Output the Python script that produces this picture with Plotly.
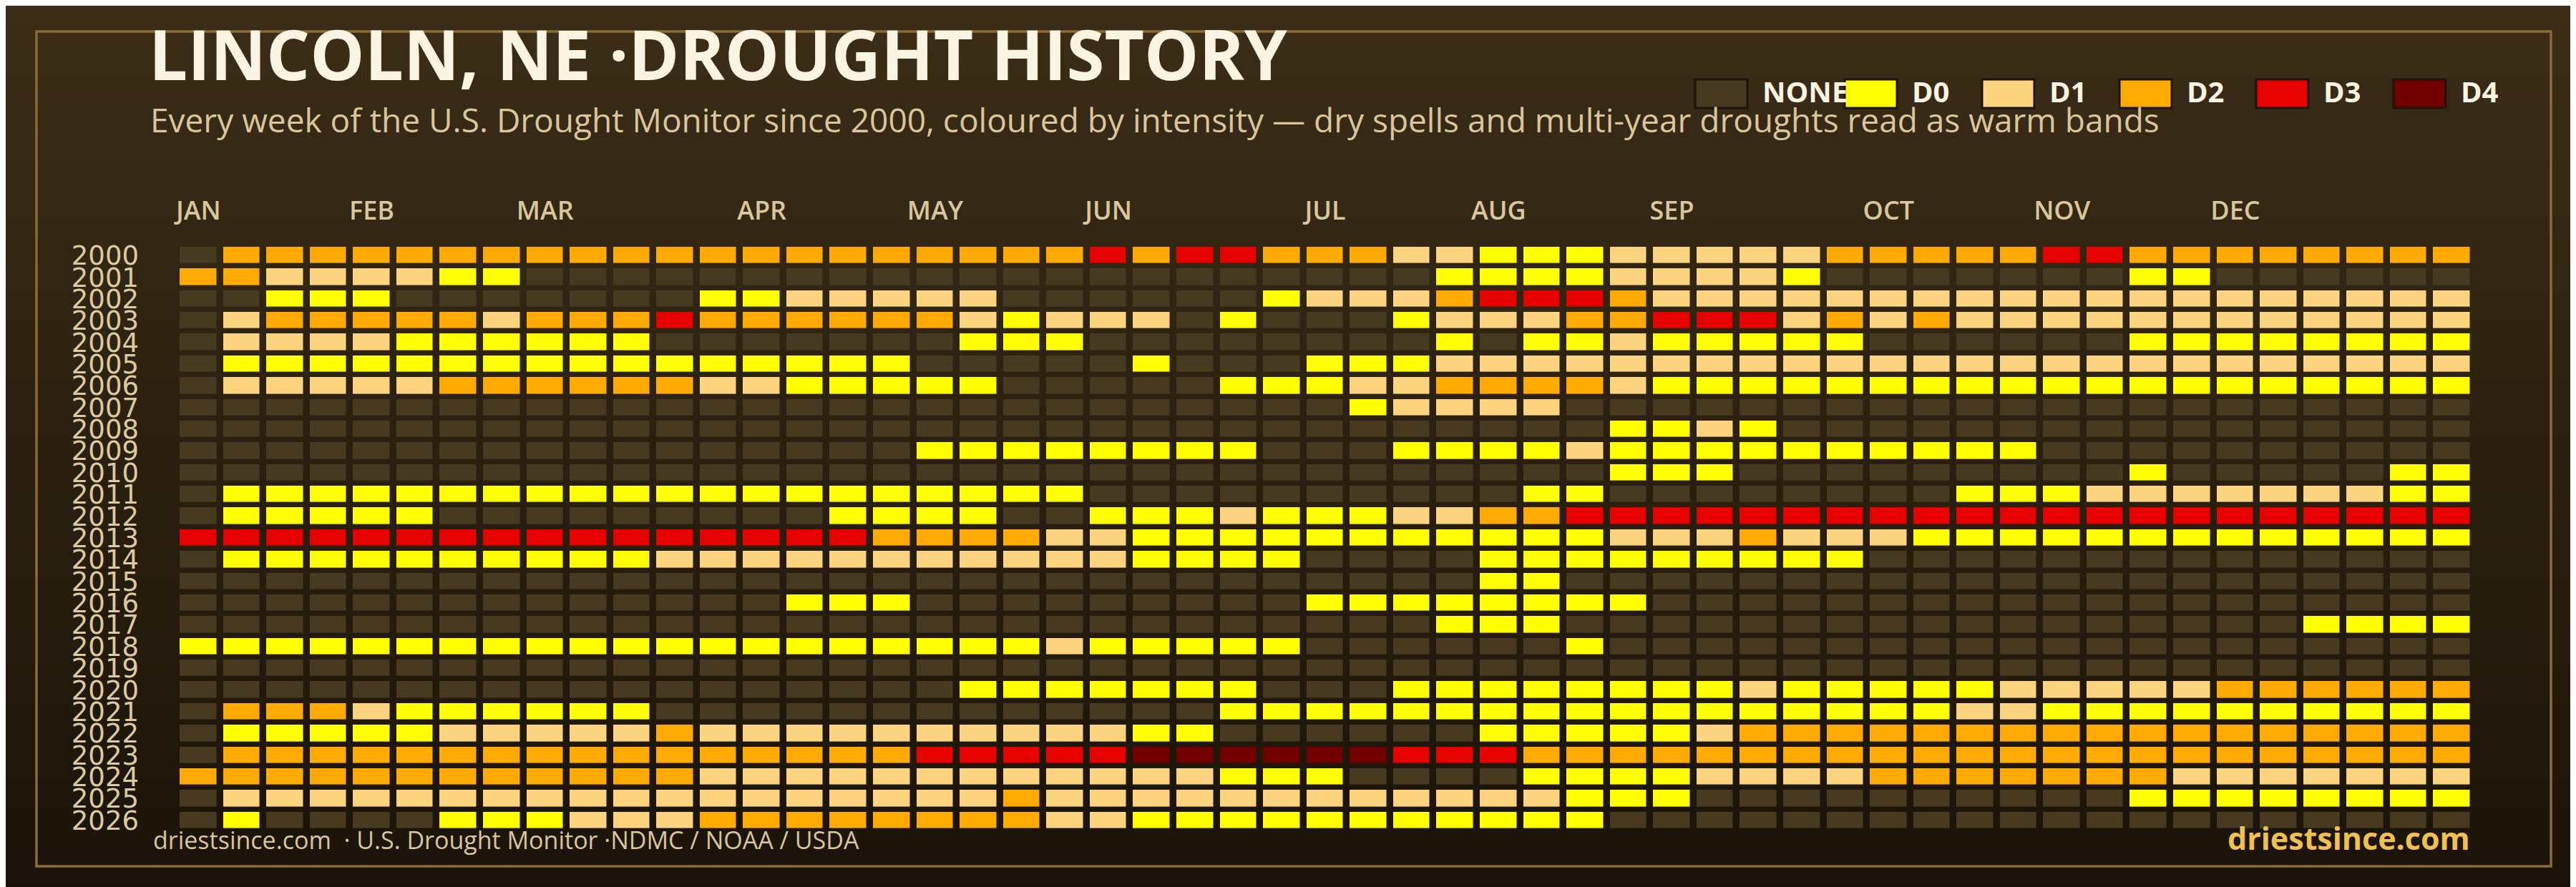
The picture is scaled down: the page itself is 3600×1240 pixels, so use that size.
import plotly.graph_objects as go

# ---------------- data ----------------
years = list(range(2000, 2027))
week_index = list(range(53))
month_labels = ["JAN", "FEB", "MAR", "APR", "MAY", "JUN", "JUL", "AUG", "SEP", "OCT", "NOV", "DEC"]
month_weeks = [0, 4, 8, 13, 17, 21, 26, 30, 34, 39, 43, 47]
level_names = ["NONE", "D0", "D1", "D2", "D3", "D4"]
level_colors = ["#483a21", "#ffff00", "#fcd37f", "#ffaa00", "#e60000", "#730000"]

# weekly drought category per year: '.' = none, '0'..'4' = D0..D4 (spaces group weeks by ten)
weeks_2000s = [
    ".222222222 2222222222 2323322211 0001111122 2223322222 222",  # 2000
    "22111100.. .......... .........0 00011110.. .....00... ...",  # 2001
    "..000..... ..0011111. .....01112 3332111111 1111111111 111",  # 2002
    ".122222122 2322222210 111.0...01 1122333121 2111111111 111",  # 2003
    ".111100000 0.......00 0........0 .00100000. .....00000 000",  # 2004
    ".000000000 0000000... ..0...0001 1111111111 1111111111 111",  # 2005
    ".111112222 221100000. ....000112 2221000000 0000000000 000",  # 2006
    ".......... .......... .......011 11........ .......... ...",  # 2007
    ".......... .......... .......... ...0010... .......... ...",  # 2008
    ".......... .......000 00000...00 0010000000 000....... ...",  # 2009
]
weeks_2010s = [
    ".......... .......... .......... ...000.... .....0.... .00",  # 2010
    ".000000000 0000000000 0......... .00....... .000111111 100",  # 2011
    ".00000.... .....0000. .000100011 2233333333 3333333333 333",  # 2012
    "3333333333 3333332222 1100000000 0001112111 0000000000 000",  # 2013
    ".000000000 0111111111 110000.... 000000000. .......... ...",  # 2014
    ".......... .......... .......... 00........ .......... ...",  # 2015
    ".......... ....000... ......0000 0000...... .......... ...",  # 2016
    ".......... .......... .........0 00........ .........0 000",  # 2017
    "0000000000 0000000000 100000.... ..0....... .......... ...",  # 2018
    ".......... .......... .......... .......... .......... ...",  # 2019
]
weeks_2020s = [
    ".......... ........00 00000...00 0000001000 0011111222 222",  # 2020
    ".222100000 0......... ....000000 0000000000 0110000000 000",  # 2021
    ".000001111 1211111111 1100...... 0000012222 2222222222 222",  # 2022
    ".222222222 2222222333 3344444433 3222222222 2222222222 222",  # 2023
    "2222222222 2211111111 1111000... .000011112 2222221111 111",  # 2024
    ".111111111 1111111112 1111111111 11000..... .....00000 000",  # 2025
    ".0....0001 1122222222 1100000000 000....... .......... ...",  # 2026
]

CODE = {".": 0, "0": 1, "1": 2, "2": 3, "3": 4, "4": 5}
z = [[CODE[c] for c in row.replace(" ", "")] for row in weeks_2000s + weeks_2010s + weeks_2020s]

# ---------------- geometry / style ----------------
FIG_W, FIG_H = 3600, 1240
ML, MR, MT, MB = 239, 151, 334, 86
PW = FIG_W - ML - MR
PH = FIG_H - MT - MB


def fx(px):
    return (px - ML) / PW


def fy(py):
    return (FIG_H - MB - py) / PH


CREAM = "#fcf4e2"
TAN = "#d9c69d"
GOLD = "#f0c050"

n = len(level_colors)
colorscale = []
for i, c in enumerate(level_colors):
    colorscale.append([i / n, c])
    colorscale.append([(i + 1) / n, c])

fig = go.Figure(
    go.Heatmap(
        z=z, x=week_index, y=years,
        colorscale=colorscale, zmin=-0.5, zmax=n - 0.5,
        xgap=9.5, ygap=7.4, showscale=False, hoverinfo="skip",
    )
)

shapes = []
# vertical background gradient
top_rgb = (0x3b, 0x2d, 0x17)
bot_rgb = (0x1b, 0x13, 0x09)
nb = 62
for k in range(nb):
    t = (k + 0.5) / nb
    col = "rgb(%d,%d,%d)" % tuple(round(a + (b - a) * t) for a, b in zip(top_rgb, bot_rgb))
    y0 = k * FIG_H / nb
    y1 = (k + 1) * FIG_H / nb + 1
    shapes.append(dict(type="rect", xref="paper", yref="paper", x0=fx(-5), x1=fx(FIG_W + 5),
                       y0=fy(y1), y1=fy(y0 - 1 if k == 0 else y0), fillcolor=col, line_width=0, layer="below"))
# frame
shapes.append(dict(type="rect", xref="paper", yref="paper", x0=fx(43), x1=fx(3557), y0=fy(1203), y1=fy(36),
                   line=dict(color="#8a6c34", width=3.5), fillcolor="rgba(0,0,0,0)", layer="below"))

annotations = []
# legend (swatches + labels)
legend_x = [2361, 2570, 2762, 2954, 3145, 3337]
for name, col, lx in zip(level_names, level_colors, legend_x):
    shapes.append(dict(type="rect", xref="paper", yref="paper", x0=fx(lx), x1=fx(lx + 73), y0=fy(143), y1=fy(103),
                       fillcolor=col, line=dict(color="#1d150b", width=3), layer="above"))
    annotations.append(dict(text=name, xref="paper", yref="paper", x=fx(lx + 92), y=fy(119), xanchor="left",
                            yanchor="middle", showarrow=False,
                            font=dict(family="Open Sans", size=40, color=CREAM, weight="bold")))

# title / subtitle
annotations.append(dict(text="LINCOLN, NE ·DROUGHT HISTORY", xref="paper", yref="paper", x=fx(198), y=fy(67),
                        xanchor="left", yanchor="middle", showarrow=False,
                        font=dict(family="Open Sans", size=96, color=CREAM, weight="bold")))
annotations.append(dict(text="Every week of the U.S. Drought Monitor since 2000, coloured by intensity — dry spells and multi-year droughts read as warm bands",
                        xref="paper", yref="paper", x=fx(200), y=fy(159), xanchor="left", yanchor="middle",
                        showarrow=False, font=dict(family="Open Sans", size=46, color=TAN, weight=500)))
# footer
annotations.append(dict(text="driestsince.com\u00a0\u00a0· U.S. Drought Monitor ·NDMC / NOAA / USDA", xref="paper", yref="paper",
                        x=fx(204), y=fy(1166), xanchor="left", yanchor="middle", showarrow=False,
                        font=dict(family="Open Sans", size=34, color=TAN)))
annotations.append(dict(text="driestsince.com", xref="paper", yref="paper", x=fx(3446), y=fy(1163),
                        xanchor="right", yanchor="middle", showarrow=False,
                        font=dict(family="Open Sans", size=43, color=GOLD, weight="bold")))

fig.update_layout(
    width=FIG_W, height=FIG_H,
    margin=dict(l=ML, r=MR, t=MT, b=MB, autoexpand=False),
    paper_bgcolor="#1b1309", plot_bgcolor="rgba(0,0,0,0)",
    shapes=shapes, annotations=annotations, showlegend=False,
    xaxis=dict(range=[-0.5, 52.5], side="top", tickmode="array", tickvals=month_weeks, ticktext=month_labels,
               ticks="", showgrid=False, zeroline=False, showline=False, ticklabelstandoff=27,
               tickfont=dict(family="Open Sans", size=36, color=TAN, weight=600), fixedrange=True),
    yaxis=dict(range=[2026.5, 1999.5], tickmode="array", tickvals=years, ticktext=[str(y) for y in years],
               ticks="", showgrid=False, zeroline=False, showline=False, ticklabelstandoff=52,
               tickfont=dict(family="DejaVu Sans", size=37, color="#dccaa0"), fixedrange=True),
)

fig.write_html("out.html")
